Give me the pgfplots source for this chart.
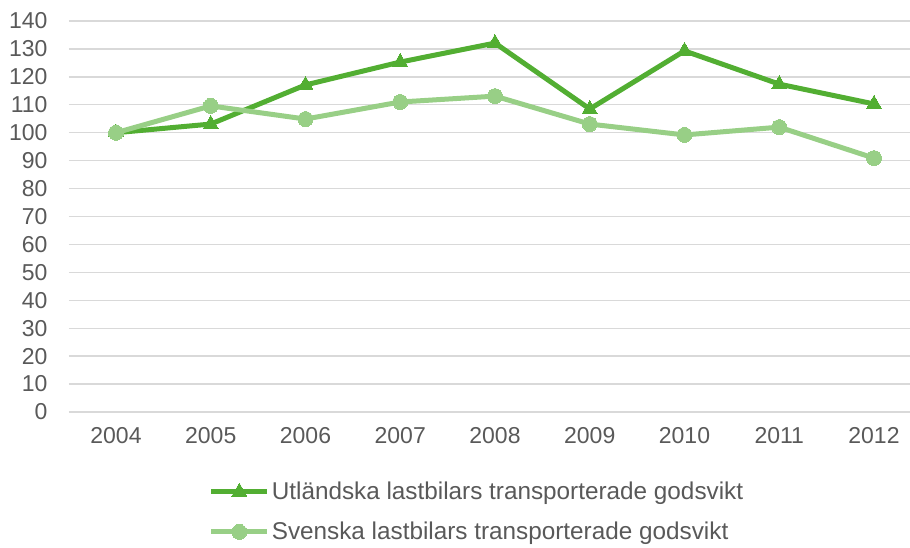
\documentclass[border=0pt]{standalone}
\usepackage{pgfplots}
\pgfplotsset{compat=1.18}
\usepackage{fontspec}
\setmainfont{Liberation Sans}
\definecolor{dkg}{HTML}{52AE32}
\definecolor{ltg}{HTML}{98CF86}
\definecolor{gridc}{HTML}{D9D9D9}
\definecolor{txt}{HTML}{595959}
\begin{document}
\begin{tikzpicture}[x=1pt,y=1pt]
\path[use as bounding box] (-69,-135) rectangle (841,412);
\begin{axis}[
  at={(0,0)}, anchor=south west,
  scale only axis, width=841pt, height=391pt,
  xmin=-0.496, xmax=8.38, ymin=0, ymax=140,
  xtick={0,...,8},
  xticklabels={2004,2005,2006,2007,2008,2009,2010,2011,2012},
  ytick={0,10,...,140},
  ymajorgrids, major grid style={gridc, line width=1.3pt},
  axis line style={draw=none},
  tick style={draw=none},
  /pgf/number format/assume math mode=true,
  ticklabel style={font=\fontsize{23}{26}\selectfont, text=txt},
  yticklabel style={xshift=-18pt},
  xticklabel style={yshift=-12pt},
  legend style={at={(0.166,-0.174)}, anchor=north west, draw=none, fill=none,
    font=\fontsize{24.3}{27}\selectfont, text=txt,
    row sep=17pt, inner sep=0pt, cells={anchor=west}},
  legend cell align=left,
  legend image code/.code={%
    \draw[mark repeat=2,mark phase=2] plot coordinates {(0pt,0pt) (28pt,0pt) (56pt,0pt)};},
  clip=false,
]
\addplot[dkg, line width=5pt, mark=triangle*, mark size=8.5pt, mark options={line width=0pt}] coordinates {
(0,100) (1,103.1) (2,117.1) (3,125.3) (4,132.1) (5,108.5) (6,129.3) (7,117.4) (8,110.3)};
\addlegendentry{Utländska lastbilars transporterade godsvikt}
\addplot[ltg, line width=5pt, mark=*, mark size=7.5pt, mark options={line width=0pt}] coordinates {
(0,100) (1,109.6) (2,104.9) (3,111) (4,113.1) (5,103.1) (6,99.2) (7,102) (8,90.9)};
\addlegendentry{Svenska lastbilars transporterade godsvikt}
\end{axis}
\end{tikzpicture}
\end{document}
